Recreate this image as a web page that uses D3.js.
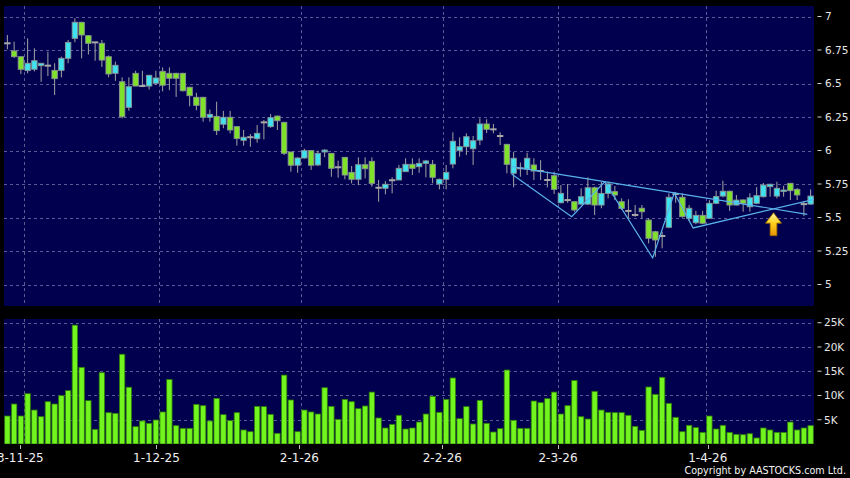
<!DOCTYPE html>
<html><head><meta charset="utf-8">
<script src="https://cdn.jsdelivr.net/npm/d3@7"></script>
<style>html,body{margin:0;padding:0;background:#000;}svg{display:block;}</style>
</head><body><svg id="c" width="850" height="478"></svg>
<script>
// ---------- DATA ----------
const opens = [6.80,6.743,6.70,6.596,6.606,6.633,6.633,6.598,6.598,6.688,
6.837,6.957,6.857,6.807,6.80,6.70,6.576,6.513,6.322,6.576,
6.481,6.481,6.502,6.591,6.576,6.576,6.576,6.472,6.397,6.397,
6.248,6.255,6.196,6.248,6.178,6.076,6.099,6.088,6.21,6.178,
6.257,6.21,5.989,5.89,5.944,5.999,5.892,5.989,5.979,5.875,
5.949,5.837,5.785,5.894,5.919,5.722,5.718,5.778,5.78,5.842,
5.897,5.879,5.904,5.897,5.75,5.785,5.899,5.999,6.028,6.013,
6.078,6.198,6.158,6.108,6.046,5.83,5.867,5.86,5.892,5.847,
5.78,5.812,5.61,5.63,5.618,5.60,5.60,5.722,5.593,5.68,
5.693,5.618,5.549,5.519,5.569,5.481,5.394,5.362,5.427,5.675,
5.651,5.494,5.461,5.516,5.494,5.606,5.66,5.696,5.593,5.631,
5.58,5.606,5.655,5.73,5.66,5.695,5.755,5.71,5.60,5.60];
const highs = [6.862,6.812,6.70,6.837,6.763,6.651,6.737,6.651,6.70,6.825,
6.987,6.96,6.86,6.81,6.825,6.71,6.663,6.546,6.546,6.595,
6.595,6.565,6.595,6.62,6.62,6.58,6.58,6.475,6.43,6.40,
6.305,6.364,6.295,6.295,6.18,6.153,6.123,6.19,6.228,6.272,
6.26,6.215,5.99,5.95,6.013,6.0,5.999,6.01,5.98,5.924,
5.95,5.884,5.949,5.949,5.949,5.78,5.772,5.80,5.892,5.942,
5.942,5.942,5.93,5.929,5.79,5.892,6.136,6.098,6.128,6.108,
6.24,6.233,6.198,6.136,6.05,5.99,5.91,5.983,5.942,5.928,
5.842,5.842,5.742,5.75,5.62,5.718,5.80,5.73,5.767,5.767,
5.735,5.643,5.636,5.593,5.593,5.494,5.40,5.394,5.68,5.69,
5.68,5.593,5.549,5.549,5.63,5.70,5.775,5.70,5.668,5.635,
5.68,5.726,5.758,5.752,5.767,5.737,5.758,5.72,5.623,5.71];
const lows = [6.755,6.69,6.571,6.576,6.59,6.513,6.556,6.414,6.546,6.651,
6.808,6.688,6.716,6.67,6.624,6.546,6.52,6.24,6.297,6.481,
6.481,6.455,6.49,6.441,6.45,6.40,6.44,6.33,6.30,6.215,
6.215,6.116,6.166,6.128,6.036,6.036,6.028,6.058,6.083,6.17,
6.153,5.966,5.842,5.834,5.94,5.855,5.884,5.95,5.804,5.797,
5.785,5.755,5.742,5.792,5.73,5.618,5.673,5.68,5.78,5.84,
5.817,5.834,5.80,5.755,5.71,5.71,5.867,5.954,5.966,5.892,
6.04,6.13,6.128,6.04,5.83,5.725,5.804,5.817,5.78,5.78,
5.725,5.675,5.606,5.61,5.543,5.593,5.593,5.518,5.569,5.643,
5.63,5.556,5.494,5.506,5.494,5.307,5.207,5.27,5.42,5.61,
5.50,5.474,5.45,5.45,5.49,5.60,5.65,5.549,5.59,5.543,
5.543,5.60,5.65,5.655,5.643,5.655,5.63,5.63,5.51,5.595];
const closes = [6.80,6.70,6.606,6.651,6.670,6.651,6.633,6.536,6.688,6.807,
6.957,6.862,6.80,6.807,6.675,6.571,6.636,6.252,6.476,6.481,
6.481,6.561,6.541,6.487,6.539,6.539,6.446,6.409,6.337,6.248,
6.27,6.148,6.248,6.153,6.09,6.099,6.099,6.128,6.21,6.245,
6.222,5.979,5.89,5.944,5.999,5.89,5.979,6.003,5.867,5.875,
5.817,5.785,5.894,5.864,5.755,5.722,5.748,5.778,5.867,5.897,
5.867,5.904,5.922,5.80,5.785,5.837,6.069,6.028,6.103,6.073,
6.198,6.158,6.158,6.108,5.897,5.942,5.867,5.942,5.847,5.847,
5.78,5.71,5.68,5.63,5.556,5.655,5.722,5.593,5.68,5.75,
5.668,5.568,5.549,5.519,5.543,5.345,5.332,5.362,5.651,5.675,
5.506,5.569,5.516,5.457,5.606,5.656,5.696,5.593,5.63,5.606,
5.647,5.663,5.742,5.748,5.718,5.705,5.70,5.668,5.60,5.66];
const volumes = [5770,8240,5770,10370,7000,5630,8720,8240,9960,11000,
24500,15800,8930,3020,14700,6460,6320,18500,11700,3570,
4740,4260,4950,6600,13300,3780,3230,3230,8170,7900,
4740,9410,6050,4810,6460,2890,2540,7760,7700,6110,
2200,14200,9070,2540,7000,6600,6180,11600,7760,5080,
9200,8720,7280,7830,10700,5360,3300,4050,5910,3090,
3300,4530,6180,9820,6530,9200,13600,5220,7700,4120,
9000,4260,2470,3160,15250,4880,3230,3230,8860,8520,
9340,10700,6180,7900,13100,5630,5150,10850,7000,6530,
6460,6460,5910,3640,2820,11750,10240,13740,8380,5500,
2540,3850,3370,2400,5770,3090,3850,2400,2000,1920,
2120,1240,3300,2890,2400,2400,4530,2890,3300,3780];
const tickIndex = [2,22,43,64,81,103];
const tickLabels = ["3-11-25","1-12-25","2-1-26","2-2-26","2-3-26","1-4-26"];
const priceTicks = [5,5.25,5.5,5.75,6,6.25,6.5,6.75,7];
const priceTickLabels = ["5","5.25","5.5","5.75","6","6.25","6.5","6.75","7"];
const volTicks = [5000,10000,15000,20000,25000];
const volTickLabels = ["5K","10K","15K","20K","25K"];
// trend lines: [bar index, price]
const trendLine1 = [[74.7,5.879],[118.5,5.524]];
const trendLine2 = [[74.7,5.825],[83.6,5.506],[88.5,5.767],[95.6,5.198],[98.8,5.683],[101.6,5.422],[119.6,5.636]];
const arrowPoint = [113.5,5.536];

// ---------- LAYOUT ----------
const W = 850, H = 478;
const L = 4, R = 814;
const pTop = 6, pBot = 306;
const vTop = 319, vBot = 444;
const n = closes.length;
const svg = d3.select("#c");
svg.append("rect").attr("width",W).attr("height",H).attr("fill","#000");

const x = d3.scaleBand().domain(d3.range(n)).range([L,R]).paddingInner(0.2).paddingOuter(0.1);
const xi = d3.scaleLinear().domain([0,n]).range([L,R]);
const xc = v => xi(v + 0.5);
const xt = d3.scaleLinear().domain([0,n-1]).range([6.7, 816.7]);
const y = d3.scaleLinear().domain([5,7]).range([284.5,16.5]);
const yv = d3.scaleLinear().domain([0,25000]).range([vBot,322.7]);

const defs = svg.append("defs");
defs.append("clipPath").attr("id","cp").append("rect").attr("x",L).attr("y",pTop).attr("width",R-L).attr("height",pBot-pTop);
defs.append("clipPath").attr("id","cv").append("rect").attr("x",L).attr("y",vTop).attr("width",R-L).attr("height",vBot-vTop);
const g1 = defs.append("linearGradient").attr("id","ag").attr("x1",0).attr("y1",0).attr("x2",0).attr("y2",1);
g1.append("stop").attr("offset","0%").attr("stop-color","#fff6a0");
g1.append("stop").attr("offset","45%").attr("stop-color","#ffd21e");
g1.append("stop").attr("offset","100%").attr("stop-color","#e89200");

svg.append("rect").attr("x",L).attr("y",pTop).attr("width",R-L).attr("height",pBot-pTop).attr("fill","#00004e");
svg.append("rect").attr("x",L).attr("y",vTop).attr("width",R-L).attr("height",vBot-vTop).attr("fill","#00004e");

const gridC = "#5a5a94";
svg.append("g").selectAll("line").data(priceTicks).join("line")
  .attr("x1",L).attr("x2",R).attr("y1",d=>Math.round(y(d))+0.5).attr("y2",d=>Math.round(y(d))+0.5)
  .attr("stroke",gridC).attr("stroke-dasharray","3,3").attr("stroke-width",1);
svg.append("g").selectAll("line").data(volTicks).join("line")
  .attr("x1",L).attr("x2",R).attr("y1",d=>Math.round(yv(d))+0.5).attr("y2",d=>Math.round(yv(d))+0.5)
  .attr("stroke",gridC).attr("stroke-dasharray","3,3").attr("stroke-width",1);
[[pTop,pBot],[vTop,vBot]].forEach(([a,b])=>{
  svg.append("g").selectAll("line").data(tickIndex).join("line")
    .attr("x1",d=>Math.round(xi(d+1))+0.5).attr("x2",d=>Math.round(xi(d+1))+0.5)
    .attr("y1",a).attr("y2",b)
    .attr("stroke",gridC).attr("stroke-dasharray","3,3").attr("stroke-width",1);
});

const ax = svg.append("g").attr("font-family","DejaVu Sans, sans-serif").attr("font-size","10.5px").attr("fill","#e6e6e6");
ax.selectAll("line.p").data(priceTicks).join("line").attr("class","p")
  .attr("x1",817.5).attr("x2",821.5).attr("y1",d=>y(d)).attr("y2",d=>y(d)).attr("stroke","#cfcfcf");
ax.selectAll("text.p").data(priceTicks).join("text").attr("class","p")
  .attr("x",825).attr("y",d=>y(d)).attr("dy","0.36em").text((d,i)=>priceTickLabels[i]);
ax.selectAll("line.v").data(volTicks).join("line").attr("class","v")
  .attr("x1",817.5).attr("x2",821.5).attr("y1",d=>yv(d)).attr("y2",d=>yv(d)).attr("stroke","#cfcfcf");
ax.selectAll("text.v").data(volTicks).join("text").attr("class","v")
  .attr("x",824).attr("y",d=>yv(d)).attr("dy","0.36em").text((d,i)=>volTickLabels[i]);

const xa = svg.append("g").attr("font-family","DejaVu Sans, sans-serif").attr("font-size","12px").attr("fill","#f0f0f0");
xa.selectAll("line").data(tickIndex).join("line")
  .attr("x1",d=>Math.round(xt(d))+0.5).attr("x2",d=>Math.round(xt(d))+0.5).attr("y1",445).attr("y2",449)
  .attr("stroke","#bbbbbb");
xa.selectAll("text").data(tickIndex).join("text")
  .attr("x",d=>xt(d)).attr("y",462).attr("text-anchor","middle").text((d,i)=>tickLabels[i]);

svg.append("text").attr("x",846).attr("y",474).attr("text-anchor","end")
  .attr("font-family","DejaVu Sans, sans-serif").attr("font-size","9.6px").attr("fill","#f4f4f4")
  .text("Copyright by AASTOCKS.com Ltd.");

const bars = d3.range(n);
svg.append("g").attr("clip-path","url(#cv)").selectAll("rect").data(bars).join("rect")
  .attr("x",i=>x(i)).attr("width",x.bandwidth())
  .attr("y",i=>yv(volumes[i])).attr("height",i=>yv(0)-yv(volumes[i]))
  .attr("fill","#72f51e").attr("stroke","#2f7a0c").attr("stroke-width",0.8);

const cg = svg.append("g").attr("clip-path","url(#cp)");
cg.selectAll("line.w").data(bars).join("line").attr("class","w")
  .attr("x1",i=>x(i)+x.bandwidth()/2).attr("x2",i=>x(i)+x.bandwidth()/2)
  .attr("y1",i=>y(highs[i])).attr("y2",i=>y(lows[i]))
  .attr("stroke","#a4a4a4").attr("stroke-width",1);
const isDoji = i => Math.abs(opens[i]-closes[i]) < 0.004;
cg.selectAll("rect.b").data(bars.filter(i=>!isDoji(i))).join("rect").attr("class","b")
  .attr("x",i=>x(i)).attr("width",x.bandwidth())
  .attr("y",i=>y(Math.max(opens[i],closes[i])))
  .attr("height",i=>Math.max(1.5, Math.abs(y(opens[i])-y(closes[i]))))
  .attr("fill",i=>closes[i]>opens[i] ? "#3fe3f0" : "#7fe12a")
  .attr("stroke","#8a9494").attr("stroke-width",0.9);
cg.selectAll("line.d").data(bars.filter(isDoji)).join("line").attr("class","d")
  .attr("x1",i=>x(i)-0.5).attr("x2",i=>x(i)+x.bandwidth()+0.5)
  .attr("y1",i=>y(closes[i])).attr("y2",i=>y(closes[i]))
  .attr("stroke","#a8a8a8").attr("stroke-width",2);

const line = d3.line().x(d=>xc(d[0])).y(d=>y(d[1]));
[trendLine1, trendLine2].forEach(t=>{
  cg.append("path").attr("d",line(t)).attr("fill","none").attr("stroke","#5ab2ea").attr("stroke-width",1.2);
});

const ax0 = xc(arrowPoint[0]), ay0 = y(arrowPoint[1]);
const ap = `M${ax0},${ay0} L${ax0+8},${ay0+10.5} L${ax0+3.4},${ay0+10.5} L${ax0+3.4},${ay0+23} L${ax0-3.4},${ay0+23} L${ax0-3.4},${ay0+10.5} L${ax0-8},${ay0+10.5} Z`;
svg.append("path").attr("d",ap).attr("fill","url(#ag)").attr("stroke","#9a6400").attr("stroke-width",0.8).attr("stroke-linejoin","round");
</script></body></html>
